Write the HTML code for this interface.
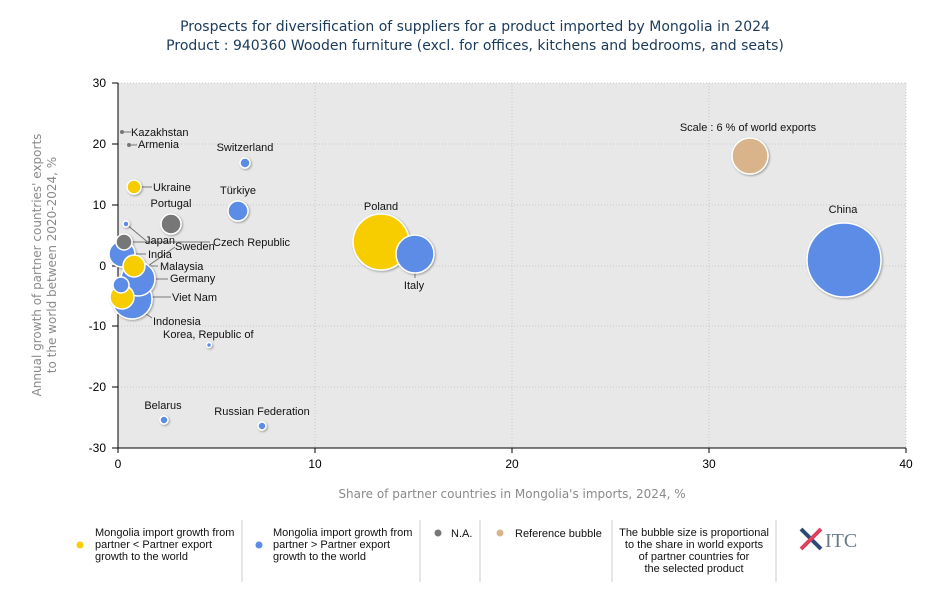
<!DOCTYPE html>
<html><head><meta charset="utf-8"><style>
body{margin:0;background:#fff;font-family:"Liberation Sans",sans-serif;}
svg text{font-family:"Liberation Sans",sans-serif;}
svg .dv{font-family:"DejaVu Sans",sans-serif;}
</style></head><body>
<svg width="950" height="600" xmlns="http://www.w3.org/2000/svg">
<defs>
<filter id="sh" x="-30%" y="-30%" width="160%" height="160%"><feDropShadow dx="1" dy="1" stdDeviation="1" flood-color="#000" flood-opacity="0.35"/></filter>
</defs>
<text class="dv" x="475" y="31" text-anchor="middle" font-size="14" fill="#1a3a5a">Prospects for diversification of suppliers for a product imported by Mongolia in 2024</text>
<text class="dv" x="475" y="50" text-anchor="middle" font-size="14" fill="#1a3a5a">Product : 940360 Wooden furniture (excl. for offices, kitchens and bedrooms, and seats)</text>
<rect x="118" y="83" width="788" height="365" fill="#e8e8e8"/>
<g stroke="#c8c8c8" stroke-dasharray="1,2">
<line x1="118" y1="83" x2="906" y2="83"/><line x1="118" y1="144" x2="906" y2="144"/><line x1="118" y1="205" x2="906" y2="205"/><line x1="118" y1="266" x2="906" y2="266"/><line x1="118" y1="326" x2="906" y2="326"/><line x1="118" y1="387" x2="906" y2="387"/>
<line x1="315" y1="83" x2="315" y2="448"/><line x1="512" y1="83" x2="512" y2="448"/><line x1="709" y1="83" x2="709" y2="448"/><line x1="906" y1="83" x2="906" y2="448"/>
</g>
<line x1="118" y1="83" x2="118" y2="448" stroke="#000"/>
<line x1="118" y1="448" x2="906" y2="448" stroke="#000"/>
<g font-size="12" fill="#000" text-anchor="end">
<text x="106" y="87">30</text><text x="106" y="148">20</text><text x="106" y="209">10</text><text x="106" y="270">0</text><text x="106" y="330">-10</text><text x="106" y="391">-20</text><text x="106" y="452">-30</text>
</g>
<g stroke="#000"><line x1="112" y1="83" x2="118" y2="83"/><line x1="112" y1="144" x2="118" y2="144"/><line x1="112" y1="205" x2="118" y2="205"/><line x1="112" y1="266" x2="118" y2="266"/><line x1="112" y1="326" x2="118" y2="326"/><line x1="112" y1="387" x2="118" y2="387"/><line x1="112" y1="448" x2="118" y2="448"/>
<line x1="118" y1="448" x2="118" y2="453"/><line x1="315" y1="448" x2="315" y2="453"/><line x1="512" y1="448" x2="512" y2="453"/><line x1="709" y1="448" x2="709" y2="453"/><line x1="906" y1="448" x2="906" y2="453"/></g>
<g font-size="12" text-anchor="middle"><text x="118" y="468">0</text><text x="315" y="468">10</text><text x="512" y="468">20</text><text x="709" y="468">30</text><text x="906" y="468">40</text></g>
<text class="dv" x="512" y="498" text-anchor="middle" font-size="12" fill="#8a8a8a">Share of partner countries in Mongolia's imports, 2024, %</text>
<text class="dv" transform="translate(41,265) rotate(-90)" text-anchor="middle" font-size="12" fill="#8a8a8a">Annual growth of partner countries' exports</text>
<text class="dv" transform="translate(56,265) rotate(-90)" text-anchor="middle" font-size="12" fill="#8a8a8a">to the world between 2020-2024, %</text>
<g stroke="#777" stroke-width="1">
<line x1="122" y1="132" x2="131" y2="132"/><line x1="129" y1="145" x2="137" y2="145"/><line x1="134" y1="187" x2="152" y2="187"/>
<line x1="126" y1="224" x2="150" y2="244"/><line x1="124" y1="242" x2="210" y2="242"/><line x1="122" y1="254" x2="146" y2="254"/>
<line x1="134" y1="266" x2="158" y2="266"/><line x1="138" y1="279" x2="168" y2="279"/><line x1="121" y1="285" x2="175" y2="247"/>
<line x1="122" y1="297" x2="171" y2="297"/><line x1="122" y1="298" x2="152" y2="318"/><line x1="415" y1="254" x2="415" y2="278"/>
</g>
<g filter="url(#sh)" stroke="#fff" stroke-width="1.5">
<circle cx="844" cy="260" r="37" fill="#5b8ce6"/>
<circle cx="750" cy="156" r="18" fill="#d9b38a"/>
<circle cx="381" cy="242" r="28" fill="#f8cd00"/>
<circle cx="415" cy="254" r="19" fill="#5b8ce6"/>
<circle cx="132" cy="299" r="20" fill="#5b8ce6"/>
<circle cx="138" cy="279" r="17" fill="#5b8ce6"/>
<circle cx="122" cy="254" r="13" fill="#5b8ce6"/>
<circle cx="124" cy="242" r="8" fill="#777"/>
<circle cx="122" cy="297" r="12" fill="#f8cd00"/>
<circle cx="121" cy="285" r="8" fill="#5b8ce6"/>
<circle cx="134" cy="266" r="11" fill="#f8cd00"/>
<circle cx="171" cy="224" r="10" fill="#777"/>
<circle cx="126" cy="224" r="3" fill="#5b8ce6"/>
<circle cx="238" cy="211" r="10" fill="#5b8ce6"/>
<circle cx="245" cy="163" r="5" fill="#5b8ce6"/>
<circle cx="134" cy="187" r="7" fill="#f8cd00"/>
<circle cx="209" cy="345" r="2.5" fill="#5b8ce6"/>
<circle cx="164" cy="420" r="4" fill="#5b8ce6"/>
<circle cx="262" cy="426" r="4" fill="#5b8ce6"/>
</g>
<circle cx="122" cy="132" r="2" fill="#777"/>
<circle cx="129" cy="145" r="2" fill="#777"/>
<g font-size="11" fill="#111">
<text x="131" y="136">Kazakhstan</text><text x="138" y="148">Armenia</text>
<text x="245" y="151" text-anchor="middle">Switzerland</text><text x="153" y="191">Ukraine</text>
<text x="238" y="194" text-anchor="middle">Türkiye</text><text x="171" y="207" text-anchor="middle">Portugal</text>
<text x="145" y="244">Japan</text><text x="213" y="246">Czech Republic</text><text x="175" y="250">Sweden</text>
<text x="148" y="258">India</text><text x="160" y="270">Malaysia</text><text x="170" y="282">Germany</text>
<text x="172" y="301">Viet Nam</text><text x="153" y="325">Indonesia</text><text x="163" y="338">Korea, Republic of</text>
<text x="381" y="210" text-anchor="middle">Poland</text><text x="414" y="289" text-anchor="middle">Italy</text>
<text x="843" y="213" text-anchor="middle">China</text><text x="748" y="131" text-anchor="middle">Scale : 6 % of world exports</text>
<text x="163" y="409" text-anchor="middle">Belarus</text><text x="262" y="415" text-anchor="middle">Russian Federation</text>
</g>
<g stroke="#ccc"><line x1="242" y1="520" x2="242" y2="582"/><line x1="420" y1="520" x2="420" y2="582"/><line x1="480" y1="520" x2="480" y2="582"/><line x1="612" y1="520" x2="612" y2="582"/><line x1="776" y1="520" x2="776" y2="582"/></g>
<g font-size="11" fill="#111">
<circle cx="80" cy="545" r="3.5" fill="#f8cd00"/>
<text x="95" y="536">Mongolia import growth from</text><text x="95" y="548">partner &lt; Partner export</text><text x="95" y="560">growth to the world</text>
<circle cx="259" cy="545" r="3.5" fill="#5b8ce6"/>
<text x="273" y="536">Mongolia import growth from</text><text x="273" y="548">partner &gt; Partner export</text><text x="273" y="560">growth to the world</text>
<circle cx="438" cy="533" r="3.5" fill="#777"/><text x="451" y="537">N.A.</text>
<circle cx="500" cy="533" r="3.5" fill="#d9b38a"/><text x="515" y="537">Reference bubble</text>
<g text-anchor="middle"><text x="694" y="536">The bubble size is proportional</text><text x="694" y="548">to the share in world exports</text><text x="694" y="560">of partner countries for</text><text x="694" y="572">the selected product</text></g>
</g>
<g stroke-width="4"><line x1="801" y1="529" x2="821" y2="549" stroke="#2a4a7a"/><line x1="821" y1="529" x2="801" y2="549" stroke="#e0405a"/></g>
<text x="825" y="547" font-size="20" font-family="Liberation Serif" fill="#6a7a8a" style="font-family:'Liberation Serif',serif">ITC</text>
</svg>
</body></html>
